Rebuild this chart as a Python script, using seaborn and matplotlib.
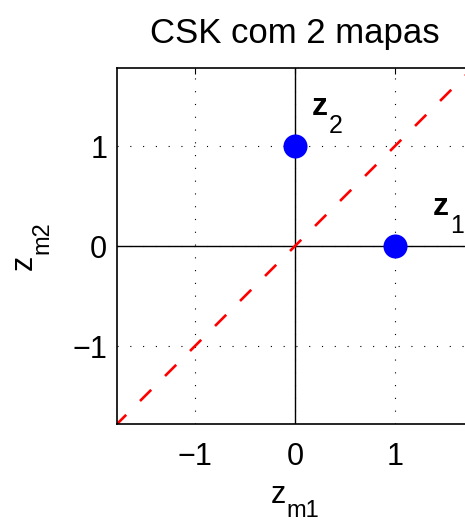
import matplotlib
matplotlib.use("Agg")
import math
import matplotlib.pyplot as plt
from matplotlib.font_manager import FontProperties
import seaborn as sns
import pandas as pd

# constellation points and their labels
point_x = [1, 0]
point_y = [0, 1]
point_names = ["1", "2"]
label_x = [1.38, 0.17]
label_y = [0.31, 1.31]

# decision boundary (z_m2 = z_m1)
boundary_x = [-1.8, 1.8]
boundary_y = [-1.8, 1.8]

ticks = [-1, 0, 1]
lim = (-1.78, 1.78)

sns.set_style("white")
plt.rcParams["font.family"] = ["Liberation Sans", "DejaVu Sans"]
for key in ("text.color", "axes.labelcolor", "xtick.color", "ytick.color",
            "axes.edgecolor"):
    plt.rcParams[key] = "black"

DPI = 100
fig = plt.figure(figsize=(4.65, 5.23), dpi=DPI)
ax = fig.add_axes([117 / 465, 99 / 523, 356 / 465, 356 / 523])

ax.grid(True, linestyle=(0, (1, 10.5)), color="black", linewidth=0.8)
ax.axhline(0, color="black", linewidth=1.0, zorder=1)
ax.axvline(0, color="black", linewidth=1.0, zorder=1)

df_line = pd.DataFrame({"x": boundary_x, "y": boundary_y})
sns.lineplot(data=df_line, x="x", y="y", ax=ax, color="red", linewidth=1.9,
             zorder=2)
ax.lines[-1].set_dashes((6.0, 7.4))

df_pts = pd.DataFrame({"x": point_x, "y": point_y})
sns.scatterplot(data=df_pts, x="x", y="y", ax=ax, color="blue", s=300,
                edgecolor="blue", linewidth=0, zorder=3)

ax.set_xlim(lim)
ax.set_ylim(lim)
ax.set_xticks(ticks)
ax.set_yticks(ticks)
ax.tick_params(direction="in", length=4, width=0.8, labelsize=22,
               top=True, right=True, color="black")
ax.tick_params(axis="x", pad=13)
ax.tick_params(axis="y", pad=7)
for s in ax.spines.values():
    s.set_color("black")
    s.set_linewidth(1.2)
ax.set_xlabel("")
ax.set_ylabel("")
ax.set_title("CSK com 2 mapas", fontsize=25, pad=18)

renderer = fig.canvas.get_renderer()


def text_width(s, size, weight="normal"):
    prop = FontProperties(family=["Liberation Sans"], size=size, weight=weight)
    w, _, _ = renderer.get_text_width_height_descent(s, prop, ismath=False)
    return w


def subscripted(xy, coords, base, sub, size, sub_size, drop, weight="normal",
                rotation=0, center=False, gap=1.0):
    """Base text followed by a lowered subscript, TeX-style."""
    r = math.radians(rotation)
    along = (math.cos(r), math.sin(r))
    down = (math.sin(r), -math.cos(r))
    w1 = text_width(base, size, weight)
    w2 = text_width(sub, sub_size)
    shift = (w1 + gap + w2) / 2 if center else 0.0
    kw = dict(xycoords=coords, textcoords="offset pixels", rotation=rotation,
              rotation_mode="anchor", ha="left", va="baseline",
              color="black", annotation_clip=False)
    ax.annotate(base, xy=xy, xytext=(-shift * along[0], -shift * along[1]),
                fontsize=size, fontweight=weight, **kw)
    d = w1 + gap - shift
    ax.annotate(sub, xy=xy,
                xytext=(d * along[0] + drop * down[0],
                        d * along[1] + drop * down[1]),
                fontsize=sub_size, **kw)


# point labels
for tx, ty, name in zip(label_x, label_y, point_names):
    subscripted((tx, ty), "data", "z", name, 23, 18, 18, weight="bold")

# axis labels
subscripted((295, 523 - 503), "figure pixels", "z", "m1", 22, 17, 14,
            center=True)
subscripted((32, 523 - 246), "figure pixels", "z", "m2", 22, 17, 16,
            rotation=90, center=True)

fig.savefig("out.png", dpi=DPI)
